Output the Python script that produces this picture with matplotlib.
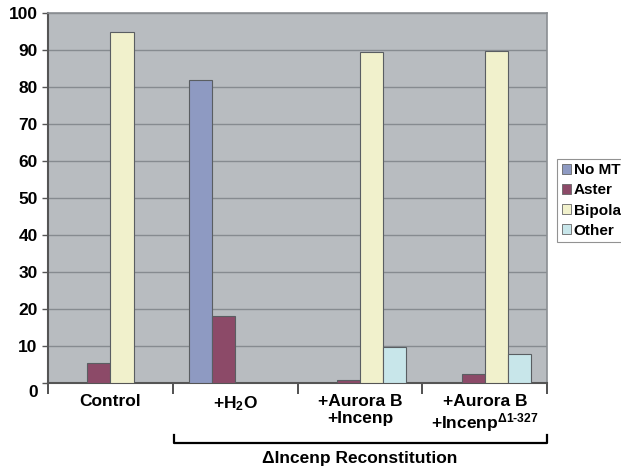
import matplotlib
matplotlib.use("Agg")
import matplotlib.pyplot as plt
import matplotlib.transforms as mtransforms
import numpy as np
from matplotlib.patches import Patch

plt.rcParams['font.family'] = ['Liberation Sans', 'DejaVu Sans']
plt.rcParams['mathtext.fontset'] = 'custom'
plt.rcParams['mathtext.rm'] = 'Liberation Sans:bold'
plt.rcParams['mathtext.it'] = 'Liberation Sans:bold'
plt.rcParams['mathtext.bf'] = 'Liberation Sans:bold'

categories = ["Control", "+H$_2$O", "+Aurora B\n+Incenp", "+Aurora B\n+Incenp$^{\\Delta1\\text{-}327}$"]
series = ["No MT", "Aster", "Bipolar", "Other"]
no_mt = [0, 81.8, 0, 0]
aster = [5.3, 18.1, 0.7, 2.4]
bipolar = [95.0, 0, 89.5, 89.8]
other = [0, 0, 9.8, 7.7]
values = [no_mt, aster, bipolar, other]
colors = ["#8e9ac2", "#8c4a68", "#f1f1cc", "#c8e6ea"]
bracket_label = "\u0394Incenp Reconstitution"

fig = plt.figure(figsize=(6.21, 4.67), dpi=100)
ax = fig.add_axes([0.0773, 0.180, 0.804, 0.792])
ax.set_facecolor("#b8bcc0")

x = np.arange(len(categories))
w = 0.185
for i, (vals, c) in enumerate(zip(values, colors)):
    ax.bar(x + (i - 1.5) * w, vals, width=w, color=c, edgecolor="#5a5e62",
           linewidth=0.8, zorder=3)

ax.set_xlim(-0.5, len(categories) - 0.5)
ax.set_ylim(0, 100)
ax.set_yticks(range(0, 101, 10))
ax.yaxis.grid(True, color="#868b90", linewidth=1.0, zorder=0)
ax.set_axisbelow(True)
ax.tick_params(axis='y', labelsize=12.5, length=4, color="#555555", width=1)
ylabels = ax.get_yticklabels()
for lbl in ylabels:
    lbl.set_fontweight('bold')
ylabels[0].set_transform(ylabels[0].get_transform() +
                         mtransforms.ScaledTranslation(0, -8 / 100, fig.dpi_scale_trans))

ax.set_xticks(np.arange(-0.5, len(categories) + 0.5, 1.0))
ax.set_xticklabels([])
ax.tick_params(axis='x', length=8, color="#333333", width=1.2)
for xi, lab in zip(x, categories):
    ax.text(xi, -3.1, lab, ha='center', va='top', fontsize=12.5, fontweight='bold',
            transform=ax.transData, linespacing=1.1)

for s in ['left', 'bottom']:
    ax.spines[s].set_color("#555555")
    ax.spines[s].set_linewidth(1.5)
for s in ['right', 'top']:
    ax.spines[s].set_color("#8a8e92")
    ax.spines[s].set_linewidth(1.2)

# bracket
y0, y1 = -14.0, -16.2
ax.plot([0.51, 0.51, 3.5, 3.5], [y0, y1, y1, y0], color='black', lw=1.6,
        clip_on=False, transform=ax.transData)
ax.text(2.0, -20.3, bracket_label, ha='center', va='center', fontsize=12.5,
        fontweight='bold')

handles = [Patch(facecolor=c, edgecolor="#666666", linewidth=0.6) for c in colors]
leg = fig.legend(handles, series, loc='upper left', bbox_to_anchor=(0.897, 0.66),
                 frameon=True, fancybox=False, edgecolor="#777777",
                 prop={'weight': 'bold', 'size': 11}, handlelength=0.6,
                 handleheight=0.6, handletextpad=0.2, borderpad=0.3,
                 labelspacing=0.4, borderaxespad=0)
leg.get_frame().set_linewidth(0.8)

fig.savefig("out.png", dpi=100)
